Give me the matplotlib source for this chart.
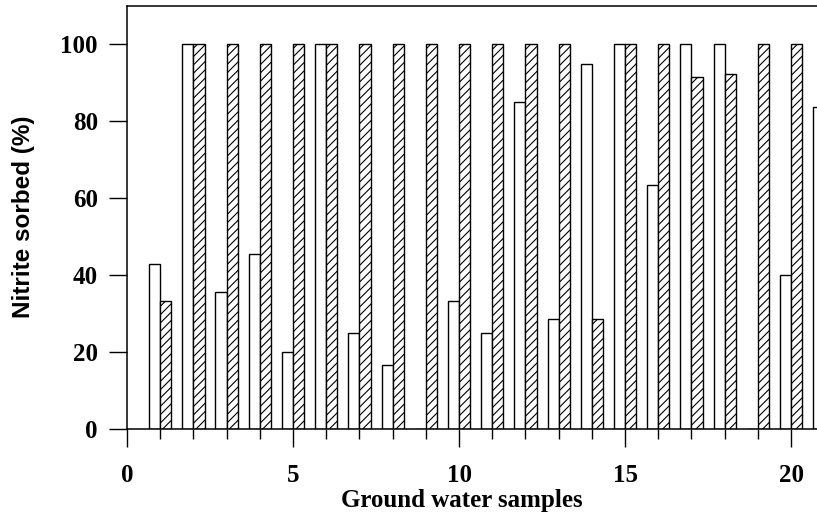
import numpy as np
import matplotlib
matplotlib.use("Agg")
import matplotlib.pyplot as plt
from matplotlib.ticker import MultipleLocator

# Data
samples_open = list(range(1, 22))
open_vals = [42.9, 100, 35.7, 45.4, 20, 100, 25, 16.7, 0, 33.3,
             25, 85, 28.6, 95, 100, 63.4, 100, 100, 0, 40, 83.7]
samples_hatch = list(range(1, 21))
hatch_vals = [33.3, 100, 100, 100, 100, 100, 100, 100, 100, 100,
              100, 100, 100, 28.6, 100, 100, 91.5, 92.4, 100, 100]

x_ticks = [0, 5, 10, 15, 20]
y_ticks = [0, 20, 40, 60, 80, 100]

plt.rcParams['hatch.linewidth'] = 0.8

W, H = 817, 514
fig = plt.figure(figsize=(W / 100, H / 100), dpi=100)
ax = fig.add_axes([127 / W, 1 - 429 / H, 1 - 127 / W, (429 - 6) / H])

bw = 0.335
ax.bar(np.array(samples_open) - bw, open_vals, bw, align='edge',
       color='white', edgecolor='black', linewidth=1.0, zorder=2)
ax.bar(np.array(samples_hatch), hatch_vals, bw, align='edge',
       color='white', edgecolor='black', linewidth=1.0, hatch='////', zorder=2)

ax.set_xlim(0, 20.78)
ax.set_ylim(0, 110)

ax.set_xticks(x_ticks)
ax.xaxis.set_minor_locator(MultipleLocator(1))
ax.set_yticks(y_ticks)

for s in ['left', 'top', 'bottom']:
    ax.spines[s].set_linewidth(1.1)
    ax.spines[s].set_zorder(3)
ax.spines['right'].set_visible(False)

ax.tick_params(axis='x', which='major', direction='out', length=13, width=1.0, pad=12)
ax.tick_params(axis='x', which='minor', direction='out', length=7.5, width=1.0)
ax.tick_params(axis='y', which='major', direction='out', length=13, width=1.0, pad=8)

for lab in ax.get_xticklabels() + ax.get_yticklabels():
    lab.set_fontfamily('Liberation Serif')
    lab.set_fontweight('bold')
    lab.set_fontsize(18)

fig.text(462 / W, 1 - 507 / H, 'Ground water samples', ha='center', va='baseline',
         fontfamily='Liberation Serif', fontweight='bold', fontsize=18)
fig.text(24 / W, 1 - 217 / H, 'Nitrite sorbed (%)', ha='center', va='center',
         rotation=90, fontfamily='Liberation Sans', fontweight='bold', fontsize=17.5)

fig.savefig('out.png', dpi=100)
